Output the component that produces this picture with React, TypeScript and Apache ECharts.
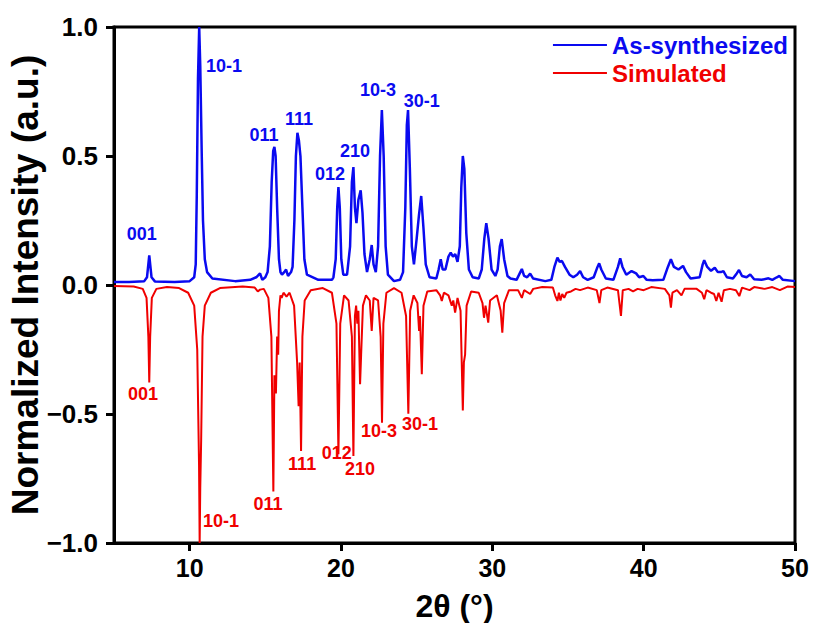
import React, { useEffect, useRef } from "react";
import * as echarts from "echarts";

const asSynthesized: [number, number][] = [
  [5.0, 0.012], [6.0, 0.012], [7.0, 0.015], [7.18, 0.03], [7.33, 0.115], [7.48, 0.03], [7.7, 0.014], [9.0, 0.012],
  [10.0, 0.015], [10.3, 0.03], [10.4, 0.08], [10.47, 0.35], [10.55, 0.8], [10.63, 1.0], [10.7, 0.85], [10.8, 0.5],
  [10.88, 0.25], [11.0, 0.1], [11.15, 0.05], [11.5, 0.025], [13.0, 0.015], [14.0, 0.02], [14.4, 0.03], [14.65, 0.045],
  [14.8, 0.02], [15.0, 0.03], [15.15, 0.05], [15.3, 0.15], [15.42, 0.4], [15.52, 0.52], [15.6, 0.535], [15.68, 0.5],
  [15.78, 0.3], [15.9, 0.1], [16.0, 0.05], [16.1, 0.04], [16.25, 0.05], [16.37, 0.06], [16.5, 0.035], [16.7, 0.05],
  [16.8, 0.07], [16.92, 0.25], [17.02, 0.5], [17.12, 0.59], [17.22, 0.56], [17.32, 0.5], [17.45, 0.3], [17.58, 0.1],
  [17.75, 0.04], [18.5, 0.02], [19.4, 0.02], [19.5, 0.03], [19.65, 0.1], [19.75, 0.3], [19.83, 0.38], [19.92, 0.3],
  [20.02, 0.1], [20.15, 0.04], [20.4, 0.04], [20.6, 0.15], [20.72, 0.4], [20.82, 0.457], [20.92, 0.3], [21.02, 0.24],
  [21.15, 0.33], [21.3, 0.367], [21.42, 0.28], [21.55, 0.12], [21.72, 0.05], [21.9, 0.1], [22.03, 0.155], [22.15, 0.08],
  [22.3, 0.05], [22.45, 0.15], [22.58, 0.5], [22.7, 0.678], [22.82, 0.5], [22.95, 0.15], [23.1, 0.04], [23.5, 0.015],
  [23.9, 0.02], [24.1, 0.05], [24.25, 0.3], [24.35, 0.62], [24.43, 0.678], [24.55, 0.45], [24.68, 0.15], [24.82, 0.08],
  [25.0, 0.18], [25.15, 0.27], [25.3, 0.345], [25.45, 0.22], [25.6, 0.08], [25.85, 0.03], [26.3, 0.025], [26.45, 0.06],
  [26.59, 0.1], [26.72, 0.06], [26.9, 0.06], [27.1, 0.11], [27.25, 0.125], [27.4, 0.11], [27.55, 0.12], [27.7, 0.09],
  [27.85, 0.15], [27.95, 0.38], [28.05, 0.5], [28.15, 0.45], [28.28, 0.2], [28.45, 0.06], [28.7, 0.03], [29.1, 0.025],
  [29.3, 0.06], [29.47, 0.18], [29.6, 0.24], [29.75, 0.18], [29.95, 0.06], [30.2, 0.035], [30.35, 0.06], [30.5, 0.15],
  [30.62, 0.178], [30.78, 0.1], [31.0, 0.035], [31.2, 0.025], [31.6, 0.02], [31.85, 0.05], [31.95, 0.062], [32.1, 0.035],
  [32.3, 0.03], [32.5, 0.044], [32.7, 0.025], [33.5, 0.015], [33.9, 0.02], [34.1, 0.07], [34.3, 0.106], [34.45, 0.09],
  [34.6, 0.093], [34.8, 0.07], [35.1, 0.04], [35.35, 0.03], [35.6, 0.04], [35.8, 0.054], [36.0, 0.03], [36.3, 0.02],
  [36.7, 0.03], [36.95, 0.07], [37.06, 0.084], [37.2, 0.06], [37.5, 0.025], [38.0, 0.02], [38.3, 0.07], [38.45, 0.103],
  [38.6, 0.07], [38.85, 0.04], [39.2, 0.054], [39.5, 0.045], [39.7, 0.03], [39.98, 0.035], [40.2, 0.02], [40.6, 0.018],
  [41.3, 0.02], [41.6, 0.07], [41.8, 0.1], [42.0, 0.07], [42.3, 0.06], [42.6, 0.074], [42.8, 0.05], [43.1, 0.025],
  [43.7, 0.03], [43.9, 0.08], [44.0, 0.096], [44.2, 0.07], [44.45, 0.055], [44.7, 0.067], [44.9, 0.05], [45.1, 0.05],
  [45.27, 0.054], [45.5, 0.03], [45.9, 0.025], [46.15, 0.045], [46.3, 0.058], [46.5, 0.035], [46.8, 0.03], [47.04, 0.041],
  [47.3, 0.022], [47.8, 0.02], [48.25, 0.026], [48.5, 0.02], [48.8, 0.03], [48.97, 0.035], [49.2, 0.02], [50.0, 0.015],
];

const simulated: [number, number][] = [
  [5, -0.004], [6.3, -0.006], [6.9, -0.015], [7.15, -0.05], [7.27, -0.2], [7.33, -0.378], [7.39, -0.2], [7.5, -0.05],
  [7.8, -0.015], [8.5, -0.008], [9.3, -0.012], [9.9, -0.03], [10.3, -0.08], [10.5, -0.25], [10.62, -0.7], [10.66, -1.0],
  [10.7, -0.785], [10.76, -0.6], [10.85, -0.2], [11.0, -0.08], [11.4, -0.03], [12.0, -0.012], [13.5, -0.006], [14.3, -0.01],
  [14.5, -0.025], [14.65, -0.018], [14.9, -0.015], [15.2, -0.05], [15.4, -0.2], [15.53, -0.8], [15.6, -0.35], [15.7, -0.42],
  [15.78, -0.2], [15.85, -0.27], [15.9, -0.1], [16.0, -0.04], [16.08, -0.05], [16.2, -0.03], [16.4, -0.045], [16.6, -0.03],
  [16.9, -0.08], [17.1, -0.3], [17.2, -0.47], [17.27, -0.3], [17.36, -0.643], [17.45, -0.2], [17.6, -0.06], [18.0, -0.02],
  [18.8, -0.012], [19.4, -0.03], [19.7, -0.15], [19.83, -0.656], [19.95, -0.15], [20.2, -0.04], [20.5, -0.06], [20.72, -0.2],
  [20.82, -0.663], [20.92, -0.12], [21.0, -0.08], [21.08, -0.15], [21.15, -0.1], [21.26, -0.385], [21.33, -0.27], [21.45, -0.08],
  [21.65, -0.04], [21.9, -0.06], [22.03, -0.178], [22.15, -0.05], [22.45, -0.06], [22.62, -0.2], [22.71, -0.534], [22.8, -0.15],
  [23.0, -0.03], [23.5, -0.012], [24.0, -0.03], [24.3, -0.12], [24.45, -0.499], [24.57, -0.1], [24.8, -0.04], [25.05, -0.07],
  [25.16, -0.178], [25.22, -0.12], [25.34, -0.346], [25.45, -0.08], [25.7, -0.025], [26.3, -0.02], [26.55, -0.04], [26.66, -0.062],
  [26.8, -0.03], [27.1, -0.04], [27.32, -0.08], [27.42, -0.06], [27.54, -0.107], [27.7, -0.05], [27.9, -0.1], [28.05, -0.486],
  [28.12, -0.3], [28.2, -0.27], [28.3, -0.08], [28.6, -0.025], [29.1, -0.03], [29.35, -0.07], [29.45, -0.127], [29.55, -0.08],
  [29.73, -0.146], [29.85, -0.06], [30.3, -0.04], [30.55, -0.1], [30.66, -0.185], [30.78, -0.07], [31.1, -0.02], [31.7, -0.02],
  [31.95, -0.05], [32.1, -0.02], [32.5, -0.035], [32.7, -0.015], [33.3, -0.008], [34.0, -0.01], [34.15, -0.04], [34.3, -0.062],
  [34.4, -0.03], [34.5, -0.06], [34.62, -0.035], [34.75, -0.05], [34.9, -0.03], [35.2, -0.025], [35.5, -0.015], [35.8, -0.02],
  [36.3, -0.01], [36.9, -0.02], [37.08, -0.07], [37.2, -0.02], [37.6, -0.01], [38.3, -0.02], [38.5, -0.12], [38.62, -0.02],
  [39.0, -0.015], [39.3, -0.025], [39.6, -0.015], [40.0, -0.02], [40.5, -0.008], [41.4, -0.015], [41.7, -0.04], [41.8, -0.088],
  [41.9, -0.03], [42.2, -0.02], [42.5, -0.04], [42.7, -0.015], [43.5, -0.015], [43.85, -0.03], [44.0, -0.055], [44.15, -0.02],
  [44.45, -0.03], [44.65, -0.035], [44.8, -0.062], [44.95, -0.03], [45.15, -0.065], [45.3, -0.02], [45.7, -0.015], [46.1, -0.02],
  [46.32, -0.043], [46.5, -0.01], [47.0, -0.02], [47.3, -0.008], [48.0, -0.015], [48.5, -0.008], [49.0, -0.02], [49.5, -0.006],
  [50, -0.008],
];

const peakNames = ["001", "10-1", "011", "111", "012", "210", "10-3", "30-1"];
// label anchor points (2θ, intensity) for the Miller-index annotations
const blueLabelX = [6.83, 12.27, 14.91, 17.23, 19.28, 20.93, 22.45, 25.34];
const blueLabelY = [0.198, 0.849, 0.581, 0.643, 0.43, 0.519, 0.756, 0.713];
const redLabelX = [6.92, 12.07, 15.18, 17.43, 19.72, 21.26, 22.51, 25.22];
const redLabelY = [-0.422, -0.915, -0.849, -0.694, -0.65, -0.713, -0.566, -0.539];

const xTicks = [10, 20, 30, 40, 50];

const BLUE = "#0a0af0";
const RED = "#f00000";
const FONT = "'Liberation Sans', Arial, sans-serif";

export default function App() {
  const ref = useRef<HTMLDivElement>(null);
  useEffect(() => {
    if (!ref.current) return;
    const chart = echarts.init(ref.current, null, { renderer: "svg" });
    const labelSeries = (xs: number[], ys: number[], color: string, id: string) => ({
      type: "scatter",
      id,
      silent: true,
      symbolSize: 0,
      z: 5,
      itemStyle: { opacity: 1 },
      data: peakNames.map((n, i) => ({ name: n, value: [xs[i], ys[i]] })),
      label: {
        show: true,
        position: "inside",
        formatter: "{b}",
        color,
        fontFamily: FONT,
        fontWeight: "bold",
        fontSize: 18,
      },
    });
    chart.setOption({
      animation: false,
      backgroundColor: "#fff",
      grid: {
        left: 114, right: 18, top: 27, bottom: 80,
        outerBoundsMode: "none", containLabel: false,
        show: true, borderColor: "#000", borderWidth: 3,
      },
      legend: {
        orient: "vertical",
        right: 20,
        top: 28,
        icon: "rect",
        itemWidth: 54,
        itemHeight: 2,
        itemGap: 4,
        data: [
          { name: "As-synthesized", textStyle: { color: BLUE } },
          { name: "Simulated", textStyle: { color: RED } },
        ],
        textStyle: { fontFamily: FONT, fontWeight: "bold", fontSize: 24 },
      },
      xAxis: {
        type: "value",
        min: 5,
        max: 50,
        name: "2θ (°)",
        nameLocation: "middle",
        nameGap: 47,
        nameTextStyle: { fontFamily: FONT, fontWeight: "bold", fontSize: 32, color: "#000" },
        axisLine: { onZero: false, lineStyle: { color: "#000", width: 3 } },
        axisTick: { show: true, customValues: xTicks, length: 8, lineStyle: { width: 3, color: "#000" } },
        axisLabel: { customValues: xTicks, margin: 12, fontFamily: FONT, fontWeight: "bold", fontSize: 25, color: "#000" },
        splitLine: { show: false },
      },
      yAxis: {
        type: "value",
        min: -1,
        max: 1,
        interval: 0.5,
        name: "Normalized Intensity (a.u.)",
        nameLocation: "middle",
        nameGap: 70,
        nameMoveOverlap: false,
        nameTextStyle: { fontFamily: FONT, fontWeight: "bold", fontSize: 37, color: "#000" },
        axisLine: { lineStyle: { color: "#000", width: 3 } },
        axisTick: { show: true, length: 8, lineStyle: { width: 3, color: "#000" } },
        axisLabel: {
          margin: 16,
          fontFamily: FONT,
          fontWeight: "bold",
          fontSize: 26,
          color: "#000",
          formatter: (v: number) => (v < 0 ? "\u2212" : "") + Math.abs(v).toFixed(1),
        },
        splitLine: { show: false },
      },
      series: [
        {
          name: "Simulated",
          type: "line",
          data: simulated,
          showSymbol: false,
          symbol: "none",
          lineStyle: { color: RED, width: 2 },
          itemStyle: { color: RED },
          z: 2,
        },
        {
          name: "As-synthesized",
          type: "line",
          data: asSynthesized,
          showSymbol: false,
          symbol: "none",
          lineStyle: { color: BLUE, width: 2.5 },
          itemStyle: { color: BLUE },
          z: 3,
        },
        labelSeries(blueLabelX, blueLabelY, BLUE, "blueLabels"),
        labelSeries(redLabelX, redLabelY, RED, "redLabels"),
      ],
    });
    return () => chart.dispose();
  }, []);
  return <div ref={ref} style={{ width: 813, height: 623, position: "fixed", left: 0, top: 0 }} />;
}
